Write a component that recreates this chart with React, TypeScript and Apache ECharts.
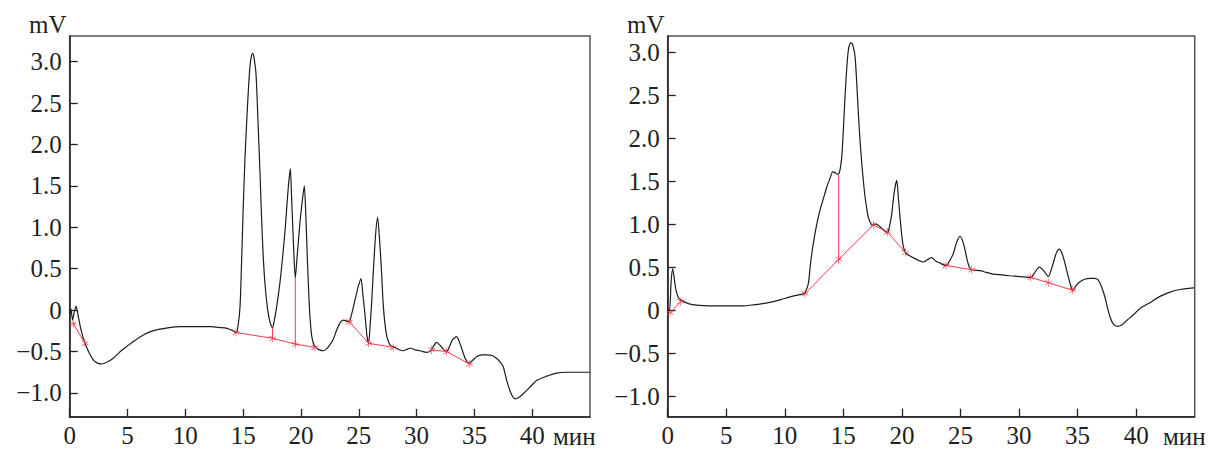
import React, { useEffect, useRef } from "react";
import * as echarts from "echarts";

// ---- data (minutes, mV) ----
const leftTrace: number[][] = [
  [0, -0.05], [0.1, 0.02], [0.25, -0.12], [0.4, -0.02], [0.55, 0.05], [0.75, -0.08], [1.0, -0.25], [1.32, -0.4],
  [1.7, -0.52], [2.04, -0.6], [2.4, -0.64], [2.77, -0.65], [3.2, -0.63], [3.77, -0.58], [4.3, -0.51], [4.93, -0.44],
  [5.6, -0.37], [6.37, -0.3], [7.0, -0.26], [7.81, -0.23], [8.6, -0.21], [9.54, -0.2], [10.4, -0.2], [11.27, -0.2],
  [12.2, -0.2], [13.0, -0.21], [13.6, -0.22], [14.15, -0.25], [14.38, -0.27], [14.55, -0.2], [14.73, 0.04],
  [14.87, 0.6], [15.01, 1.25], [15.15, 1.8], [15.3, 2.25], [15.45, 2.65], [15.59, 2.94], [15.72, 3.07], [15.82, 3.1],
  [15.95, 3.04], [16.11, 2.86], [16.28, 2.3], [16.46, 1.65], [16.6, 1.1], [16.74, 0.64], [16.9, 0.3], [17.09, 0.04],
  [17.25, -0.1], [17.38, -0.17], [17.55, -0.21], [17.7, -0.12], [17.9, 0.04], [18.2, 0.35], [18.47, 0.72],
  [18.65, 1.0], [18.82, 1.33], [18.95, 1.55], [19.08, 1.71], [19.18, 1.4], [19.28, 1.05], [19.4, 0.65], [19.51, 0.39],
  [19.7, 0.7], [19.91, 1.05], [20.1, 1.3], [20.29, 1.5], [20.42, 1.15], [20.55, 0.64], [20.66, 0.25], [20.78, -0.08],
  [20.92, -0.3], [21.07, -0.4], [21.21, -0.44], [21.6, -0.48], [21.93, -0.49], [22.2, -0.47], [22.5, -0.42],
  [22.8, -0.35], [23.09, -0.24], [23.4, -0.15], [23.66, -0.12], [23.9, -0.13], [24.17, -0.14], [24.4, -0.04],
  [24.67, 0.12], [24.95, 0.28], [25.19, 0.38], [25.35, 0.2], [25.53, -0.04], [25.7, -0.3], [25.85, -0.4],
  [26.0, -0.15], [26.12, 0.1], [26.25, 0.44], [26.45, 0.9], [26.63, 1.12], [26.8, 0.85], [26.98, 0.44], [27.1, 0.1],
  [27.26, -0.16], [27.45, -0.33], [27.7, -0.42], [27.98, -0.44], [28.4, -0.47], [28.85, -0.49], [29.2, -0.47],
  [29.5, -0.46], [29.9, -0.48], [30.3, -0.49], [30.87, -0.51], [31.21, -0.49], [31.45, -0.44], [31.73, -0.39],
  [32.0, -0.42], [32.3, -0.47], [32.6, -0.5], [32.85, -0.44], [33.1, -0.36], [33.46, -0.32], [33.8, -0.42],
  [34.2, -0.58], [34.53, -0.64], [34.8, -0.61], [35.05, -0.58], [35.2, -0.56], [35.62, -0.54], [36.06, -0.54],
  [36.6, -0.55], [36.9, -0.58], [37.2, -0.62], [37.49, -0.68], [37.8, -0.85], [38.07, -0.97], [38.3, -1.04],
  [38.56, -1.07], [38.9, -1.05], [39.22, -1.01], [39.8, -0.93], [40.38, -0.85], [41.2, -0.8], [42.11, -0.76],
  [43.0, -0.75], [44.0, -0.75], [45.0, -0.75],
];

const rightTrace: number[][] = [
  [0, 0], [0.15, 0.0], [0.3, 0.35], [0.43, 0.48], [0.55, 0.38], [0.71, 0.23], [0.9, 0.15], [1.11, 0.12], [1.5, 0.09],
  [1.9, 0.07], [2.7, 0.055], [3.61, 0.05], [5.0, 0.05], [6.46, 0.05], [7.2, 0.06], [7.88, 0.07], [8.7, 0.09],
  [9.59, 0.12], [10.6, 0.16], [11.58, 0.19], [11.72, 0.2], [12.01, 0.31], [12.2, 0.55], [12.44, 0.78], [12.7, 0.98],
  [13.0, 1.16], [13.3, 1.3], [13.58, 1.43], [13.85, 1.53], [14.09, 1.61], [14.3, 1.6], [14.5, 1.58], [14.66, 1.6],
  [14.86, 1.78], [15.0, 2.1], [15.14, 2.48], [15.28, 2.8], [15.42, 3.02], [15.56, 3.1], [15.71, 3.11], [15.85, 3.06],
  [16.0, 2.95], [16.14, 2.65], [16.28, 2.29], [16.42, 1.98], [16.57, 1.71], [16.71, 1.5], [16.85, 1.32], [17.0, 1.18],
  [17.13, 1.08], [17.3, 1.02], [17.42, 0.99], [17.6, 1.0], [17.79, 1.0], [17.95, 0.99], [18.13, 0.97], [18.45, 0.93],
  [18.76, 0.9], [18.95, 0.98], [19.13, 1.12], [19.35, 1.38], [19.56, 1.51], [19.7, 1.3], [19.84, 1.08], [19.98, 0.88],
  [20.12, 0.74], [20.35, 0.66], [20.69, 0.63], [20.97, 0.61], [21.4, 0.58], [21.83, 0.56], [22.2, 0.59],
  [22.54, 0.61], [22.9, 0.57], [23.25, 0.55], [23.5, 0.53], [23.77, 0.52], [24.1, 0.58], [24.39, 0.66], [24.7, 0.8],
  [24.96, 0.86], [25.2, 0.8], [25.39, 0.7], [25.58, 0.58], [25.76, 0.5], [25.96, 0.47], [26.67, 0.46], [27.2, 0.44],
  [27.8, 0.42], [28.5, 0.41], [29.23, 0.4], [30.1, 0.39], [31.0, 0.38], [31.35, 0.44], [31.73, 0.5], [32.1, 0.46],
  [32.5, 0.39], [32.75, 0.47], [32.99, 0.58], [33.2, 0.67], [33.44, 0.71], [33.7, 0.65], [33.93, 0.54], [34.15, 0.42],
  [34.36, 0.31], [34.59, 0.23], [34.9, 0.29], [35.21, 0.33], [35.6, 0.36], [36.06, 0.37], [36.45, 0.37],
  [36.77, 0.35], [37.05, 0.27], [37.34, 0.15], [37.55, 0.03], [37.77, -0.08], [38.05, -0.16], [38.4, -0.19],
  [38.8, -0.17], [39.2, -0.12], [39.8, -0.05], [40.33, 0.02], [41.2, 0.09], [42.04, 0.16], [42.9, 0.21],
  [43.75, 0.24], [44.94, 0.26], [45, 0.26],
];

// baseline (integration) segments, red
const leftBaselines: number[][][] = [
  [[0.3, -0.16], [1.32, -0.4]],
  [[14.38, -0.27], [17.55, -0.34], [19.51, -0.41], [21.21, -0.45]],
  [[24.17, -0.14], [25.86, -0.4], [27.98, -0.45]],
  [[31.3, -0.48], [32.6, -0.5], [34.55, -0.65]],
];
const leftDrops: number[][][] = [
  [[17.55, -0.34], [17.55, -0.21]],
  [[19.51, -0.41], [19.51, 0.39]],
];
const rightBaselines: number[][][] = [
  [[0.2, -0.03], [1.11, 0.1]],
  [[11.72, 0.19], [14.6, 0.59], [17.56, 0.99], [18.76, 0.91], [20.3, 0.67]],
  [[23.77, 0.52], [25.96, 0.47]],
  [[31.0, 0.38], [32.5, 0.32], [34.59, 0.23]],
];
const rightDrops: number[][][] = [[[14.6, 0.59], [14.6, 1.58]]];

const yTicks = [-1, -0.5, 0, 0.5, 1, 1.5, 2, 2.5, 3];
const xTicks = [0, 5, 10, 15, 20, 25, 30, 35, 40];
const yUnit = "mV";
const xUnit = "мин";

const FONT = "'Liberation Serif', 'Times New Roman', serif";
const FS = 25;
const TXT = "#231f20";
const RED = "#f43a4a";
const STAR =
  "path://M4.6,0h0.8v10h-0.8z M0.4,2.3l0.4,-0.7l8.8,5.1l-0.4,0.7z M0.4,7.7l8.8,-5.1l0.4,0.7l-8.8,5.1z";

function fmtY(v: number) {
  if (Math.abs(v) < 1e-9) return "0";
  const s = Math.abs(v).toFixed(1);
  return v < 0 ? "\u2212" + s : s;
}

export default function App() {
  const ref = useRef<HTMLDivElement>(null);
  useEffect(() => {
    if (!ref.current) return;
    const chart = echarts.init(ref.current, null, { renderer: "svg" });

    const grids = [
      { left: 69.7, top: 36, width: 520.3, height: 381, ymin: -1.29, ymax: 3.31 },
      { left: 667.7, top: 36, width: 527, height: 380.7, ymin: -1.24, ymax: 3.19 },
    ];

    const xAxes = grids.map((g, i) => ({
      type: "value",
      gridIndex: i,
      min: 0,
      max: 45,
      axisLine: { show: true, onZero: false, lineStyle: { color: "#222", width: 1.5 } },
      axisTick: {
        show: true,
        inside: true,
        length: 8,
        customValues: xTicks,
        lineStyle: { color: "#222", width: 1.3 },
      },
      axisLabel: {
        show: true,
        customValues: xTicks,
        margin: 6,
        fontFamily: FONT,
        fontSize: FS,
        color: TXT,
        formatter: (v: number) => String(v),
      },
      splitLine: { show: false },
    }));

    const yAxes = grids.map((g, i) => ({
      type: "value",
      gridIndex: i,
      min: g.ymin,
      max: g.ymax,
      axisLine: { show: true, onZero: false, lineStyle: { color: "#222", width: 1.5 } },
      axisTick: {
        show: true,
        inside: true,
        length: 8,
        customValues: yTicks,
        lineStyle: { color: "#222", width: 1.3 },
      },
      axisLabel: {
        show: true,
        customValues: yTicks,
        margin: 8,
        fontFamily: FONT,
        fontSize: FS,
        color: TXT,
        formatter: (v: number) => fmtY(v),
      },
      splitLine: { show: false },
    }));

    const series: any[] = [];
    const traces = [leftTrace, rightTrace];
    const bases = [leftBaselines, rightBaselines];
    const drops = [leftDrops, rightDrops];
    for (let i = 0; i < 2; i++) {
      series.push({
        type: "line",
        xAxisIndex: i,
        yAxisIndex: i,
        data: traces[i],
        showSymbol: false,
        smooth: 0.25,
        lineStyle: { color: "#1c1c1c", width: 1.2 },
        z: 2,
      });
      for (const seg of drops[i]) {
        series.push({
          type: "line",
          xAxisIndex: i,
          yAxisIndex: i,
          data: seg,
          showSymbol: false,
          lineStyle: { color: RED, width: 1 },
          z: 3,
        });
      }
      for (const seg of bases[i]) {
        series.push({
          type: "line",
          xAxisIndex: i,
          yAxisIndex: i,
          data: seg,
          symbol: STAR,
          symbolSize: [7, 8],
          showSymbol: true,
          itemStyle: { color: RED },
          lineStyle: { color: RED, width: 1 },
          z: 4,
        });
      }
    }

    const textStyle = { font: `${FS}px ${FONT}`, fill: TXT };
    chart.setOption({
      animation: false,
      backgroundColor: "#fff",
      grid: grids.map((g) => ({
        left: g.left,
        top: g.top,
        width: g.width,
        height: g.height,
        show: true,
        borderColor: "#555",
        borderWidth: 1.5,
        backgroundColor: "transparent",
        containLabel: false,
      })),
      xAxis: xAxes,
      yAxis: yAxes,
      series,
      graphic: [
        { type: "text", x: 29, y: 24, style: { ...textStyle, text: yUnit, align: "left", verticalAlign: "middle" } },
        { type: "text", x: 627, y: 24, style: { ...textStyle, text: yUnit, align: "left", verticalAlign: "middle" } },
        { type: "text", x: 553, y: 436, style: { ...textStyle, text: xUnit, align: "left", verticalAlign: "middle" } },
        { type: "text", x: 1163, y: 436, style: { ...textStyle, text: xUnit, align: "left", verticalAlign: "middle" } },
      ],
    });
    return () => chart.dispose();
  }, []);

  return (
    <div
      ref={ref}
      style={{ position: "absolute", left: 0, top: 0, width: 1214, height: 449, background: "#fff" }}
    />
  );
}
